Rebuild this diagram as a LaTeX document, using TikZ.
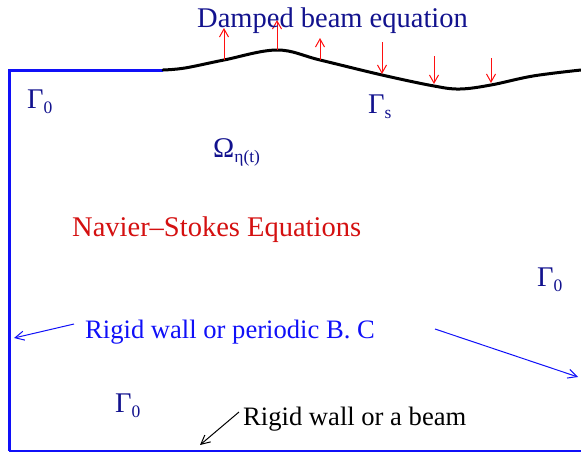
\documentclass[tikz,border=0pt]{standalone}
\usepackage{fontspec}
\setmainfont{Liberation Serif}
\usetikzlibrary{arrows.meta}
\definecolor{Navy}{HTML}{12128E}
\definecolor{Wall}{HTML}{1010F8}
\definecolor{Force}{HTML}{FF1010}
\definecolor{Fluid}{HTML}{D41010}
\newcommand{\lowidx}[1]{\raisebox{-.2em}{\fontsize{17.5}{19}\selectfont #1}}
\tikzset{
  lbl/.style={inner sep=0pt,anchor=base west,font=\fontsize{28.5}{30}\selectfont},
  smalllbl/.style={lbl,font=\fontsize{26.6}{28}\selectfont},
  wall/.style={draw=Wall,line width=3pt},
  floor/.style={draw=Wall,line width=1.6pt},
  beam/.style={draw=black,line width=3pt,line cap=round},
  push/.style={-{Straight Barb[length=8pt,width=9pt]},draw=Force,line width=1pt},
  hint/.style={-{Straight Barb[length=9pt,width=9pt]},line width=1pt}
}
\begin{document}
\begin{tikzpicture}[x=1pt,y=-1pt]
        \useasboundingbox (0,0) rectangle (581,453);
        \coordinate (tl) at (9,70);
        \coordinate (joint) at (163,70);
        \coordinate (bl) at (9,451);
        \coordinate (br) at (581,451);
        \draw[wall] (joint) -- (tl) -- (bl);
        \draw[floor] (bl) -- (br);
        \draw[beam] plot[smooth,tension=.6] coordinates {(163,70) (185,68) (224,60) (277,50) (320,60) (382,75) (434,86) (460,89) (491,85) (533,76) (581,70)};
        \foreach \x/\ya/\yb in {224/60/28,277/50/20,320/60/38,382/42/74,434/56/84,491/58/83}
          \draw[push] (\x,\ya) -- (\x,\yb);
        \node[lbl,text=Navy] (beamlbl) at (197,27) {Damped beam equation};
        \node[lbl,text=Navy] (gtop) at (27,108) {Γ\lowidx{0}};
        \node[lbl,text=Navy] (gs) at (368,113) {Γ\lowidx{s}};
        \node[lbl,text=Navy] (omega) at (213,157) {Ω\lowidx{η(t)}};
        \node[lbl,text=Fluid] (nse) at (72,236) {Navier–Stokes Equations};
        \node[lbl,text=Navy] (gright) at (537,286) {Γ\lowidx{0}};
        \node[smalllbl,text=Wall] (periodic) at (85,338) {Rigid wall or periodic B. C};
        \node[lbl,text=Navy] (gbot) at (115,412) {Γ\lowidx{0}};
        \node[smalllbl] (bottomlbl) at (243,425) {Rigid wall or a beam};
        \coordinate (leftend) at (14,338);
        \coordinate (rightstart) at (435,329);
        \coordinate (rightend) at (578,377);
        \coordinate (floorend) at (200,445);
        \draw[hint,draw=Wall] ([xshift=-11pt,yshift=14pt]periodic.base west) -- (leftend);
        \draw[hint,draw=Wall] (rightstart) -- (rightend);
        \draw[hint] ([xshift=-4pt,yshift=13pt]bottomlbl.base west) -- (floorend);
      \end{tikzpicture}
\end{document}
